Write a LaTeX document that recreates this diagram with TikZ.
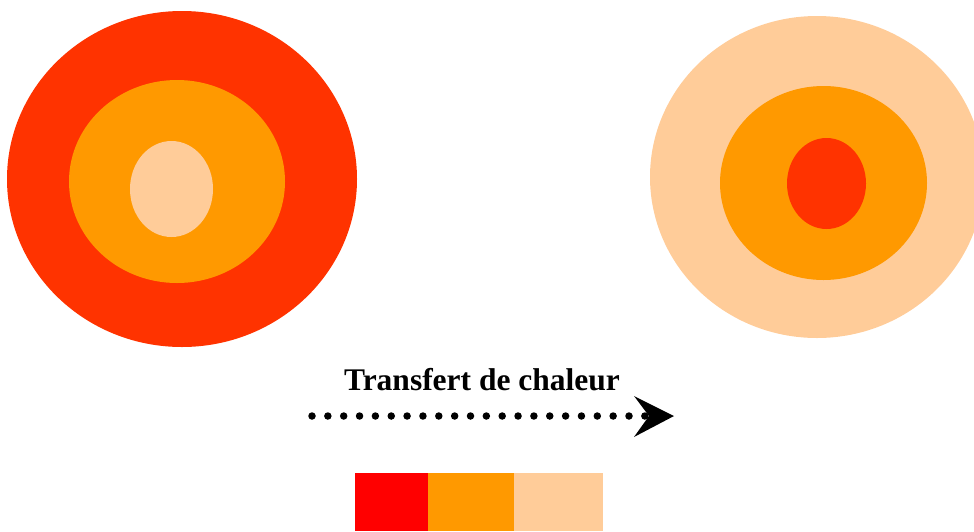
\documentclass[tikz,border=0pt]{standalone}
\usepackage{fontspec}
\setmainfont{Liberation Serif}
\definecolor{hot}{HTML}{FF3300}
\definecolor{warm}{HTML}{FF9900}
\definecolor{cool}{HTML}{FFCC99}
\definecolor{pure}{HTML}{FF0000}
\tikzset{
  dotline/.style={line width=7.5pt, line cap=round, dash pattern=on 0pt off 15.85pt},
  label/.style={font=\fontsize{31.5}{36}\selectfont\bfseries, anchor=base, inner sep=0pt},
}
\begin{document}
\begin{tikzpicture}[x=1pt,y=-1pt]
\useasboundingbox (0,0) rectangle (974,531);
% left body (hot)
\fill[hot]  (182,179) ellipse [x radius=175, y radius=168];
\fill[warm] (177,181.5) ellipse [x radius=108, y radius=101.5];
\fill[cool] (171.5,189) ellipse [x radius=41.5, y radius=48];
% right body (cold)
\begin{scope}
\clip (0,0) rectangle (974,531);
\fill[cool] (817,177) ellipse [x radius=167, y radius=161];
\end{scope}
\fill[warm] (823.5,183) ellipse [x radius=103.5, y radius=97];
\fill[hot]  (826.5,183.5) ellipse [x radius=39.5, y radius=45.5];
% label
\node[label] (lab) at (482,390) {Transfert de chaleur};
% arrow
\coordinate (a0) at (312,416);
\coordinate (a1) at (646,416);
\coordinate (tip) at (674,416);
\draw[dotline] (a0) -- (a1);
\fill (tip) -- (634,396) -- (649,416) -- (634,437) -- cycle;
% colour bar
\fill[pure] (355,473) rectangle (428,531);
\fill[warm] (428,473) rectangle (514,531);
\fill[cool] (514,473) rectangle (603,531);
\end{tikzpicture}
\end{document}
